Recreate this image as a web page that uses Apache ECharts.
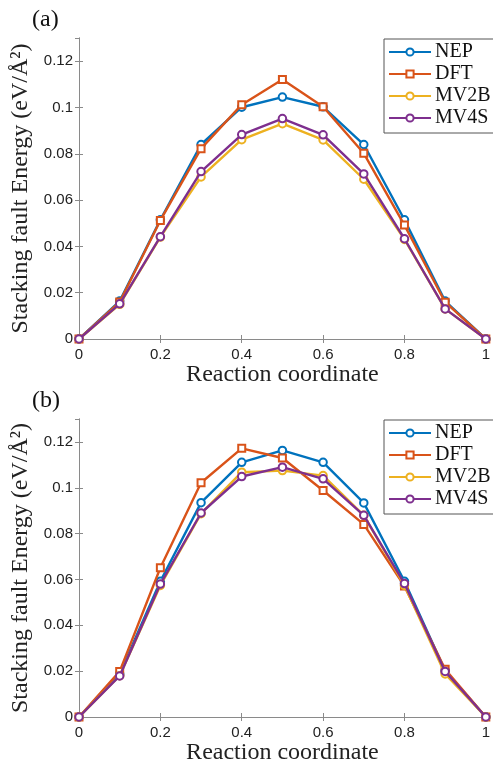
<!DOCTYPE html>
<html>
<head>
<meta charset="utf-8">
<script src="https://cdn.jsdelivr.net/npm/echarts@6/dist/echarts.min.js"></script>
<style>html,body{margin:0;padding:0;background:#fff;}#c{width:493px;height:766px;}</style>
</head>
<body>
<div id="c"></div>
<script>
const xCoord = [0, 0.1, 0.2, 0.3, 0.4, 0.5, 0.6, 0.7, 0.8, 0.9, 1];
const seriesNames = ['NEP', 'DFT', 'MV2B', 'MV4S'];
// Panel (a)
const nepA  = [0, 0.0164, 0.0515, 0.0840, 0.1001, 0.1045, 0.1003, 0.0840, 0.0515, 0.0164, 0];
const dftA  = [0, 0.0160, 0.0512, 0.0822, 0.1012, 0.1121, 0.1003, 0.0802, 0.0492, 0.0159, 0];
const mv2bA = [0, 0.0150, 0.0440, 0.0700, 0.0861, 0.0930, 0.0860, 0.0690, 0.0430, 0.0130, 0];
const mv4sA = [0, 0.0152, 0.0442, 0.0723, 0.0883, 0.0952, 0.0882, 0.0713, 0.0433, 0.0130, 0];
// Panel (b)
const nepB  = [0, 0.0188, 0.0592, 0.0935, 0.1111, 0.1163, 0.1111, 0.0934, 0.0592, 0.0202, 0];
const dftB  = [0, 0.0199, 0.0651, 0.1022, 0.1172, 0.1130, 0.0988, 0.0840, 0.0571, 0.0208, 0];
const mv2bB = [0, 0.0180, 0.0574, 0.0887, 0.1068, 0.1075, 0.1053, 0.0880, 0.0574, 0.0188, 0];
const mv4sB = [0, 0.0179, 0.0580, 0.0890, 0.1049, 0.1090, 0.1039, 0.0880, 0.0582, 0.0199, 0];
const xTicks = [0, 0.2, 0.4, 0.6, 0.8, 1];
const yTicks = [0, 0.02, 0.04, 0.06, 0.08, 0.1, 0.12];

const colors = ['#0072BD', '#D95319', '#EDB120', '#7E2F8E'];
const symbols = ['circle', 'rect', 'circle', 'circle'];
const serif = '"Liberation Serif", "Times New Roman", serif';
const sans = '"Liberation Sans", Arial, sans-serif';
const axisCol = '#8a8a8a';

const panels = [
  {label: '(a)', top: 38, data: [nepA, dftA, mv2bA, mv4sA]},
  {label: '(b)', top: 419, data: [nepB, dftB, mv2bB, mv4sB]}
];

const grids = [], xAxes = [], yAxes = [], series = [], legends = [], titles = [];
panels.forEach((p, gi) => {
  grids.push({left: 79, right: 2, top: p.top, height: 301, containLabel: false});
  titles.push({text: p.label, left: 27, top: p.top - 35,
    textStyle: {fontFamily: serif, fontSize: 24, fontWeight: 'normal', color: '#111'}});
  const baseX = {type: 'value', gridIndex: gi, min: 0, max: 1, interval: 0.2,
    axisLine: {show: true, lineStyle: {color: axisCol, width: 1}},
    axisTick: {show: true, inside: true, length: 4, lineStyle: {color: axisCol}},
    splitLine: {show: false}};
  xAxes.push(Object.assign({}, baseX, {position: 'bottom',
    name: 'Reaction coordinate', nameLocation: 'middle', nameGap: 24,
    nameTextStyle: {fontFamily: serif, fontSize: 24, color: '#222'},
    axisLabel: {fontFamily: sans, fontSize: 15, color: '#222', margin: 8,
      formatter: v => xTicks.some(t => Math.abs(t - v) < 1e-9) ? String(+v.toFixed(2)) : ''}}));
  xAxes.push(Object.assign({}, baseX, {position: 'top', axisLabel: {show: false}}));
  const baseY = {type: 'value', gridIndex: gi, min: 0, max: 0.13, interval: 0.02,
    axisLine: {show: true, lineStyle: {color: axisCol, width: 1}},
    axisTick: {show: true, inside: true, length: 4, lineStyle: {color: axisCol}},
    splitLine: {show: false}};
  yAxes.push(Object.assign({}, baseY, {position: 'left',
    name: 'Stacking fault Energy (eV/Å²)', nameLocation: 'middle', nameGap: 44, nameRotate: 90,
    nameTextStyle: {fontFamily: serif, fontSize: 24, color: '#222'},
    axisLabel: {fontFamily: sans, fontSize: 15, color: '#222', margin: 6, showMaxLabel: false,
      formatter: v => yTicks.some(t => Math.abs(t - v) < 1e-9) ? String(+v.toFixed(2)) : ''}}));
  yAxes.push(Object.assign({}, baseY, {position: 'right', axisLabel: {show: false}}));
  seriesNames.forEach((name, si) => {
    series.push({
      name: name + (gi ? ' ' : ''), type: 'line', xAxisIndex: gi * 2, yAxisIndex: gi * 2,
      data: xCoord.map((x, i) => [x, p.data[si][i]]),
      symbol: symbols[si], symbolSize: si === 1 ? 7 : 7.5,
      lineStyle: {color: colors[si], width: 2.4},
      itemStyle: {color: '#fff', borderColor: colors[si], borderWidth: 2},
      emphasis: {disabled: true}, animation: false, z: 2 + si
    });
  });
  legends.push({
    data: seriesNames.map(n => ({name: n + (gi ? ' ' : '')})),
    orient: 'vertical', left: 384, top: p.top + 1, itemWidth: 42, itemHeight: 9, itemGap: 2,
    padding: [3, 40, 5, 4], borderColor: '#555', borderWidth: 1, backgroundColor: '#fff',
    textStyle: {fontFamily: serif, fontSize: 20, color: '#111', padding: [0, 0, 0, -1]},
    formatter: n => n.trim(),
    selectedMode: false
  });
});

const chart = echarts.init(document.getElementById('c'), null, {renderer: 'canvas'});
chart.setOption({
  backgroundColor: '#fff', animation: false,
  title: titles, grid: grids, xAxis: xAxes, yAxis: yAxes, legend: legends, series: series
});
</script>
</body>
</html>
